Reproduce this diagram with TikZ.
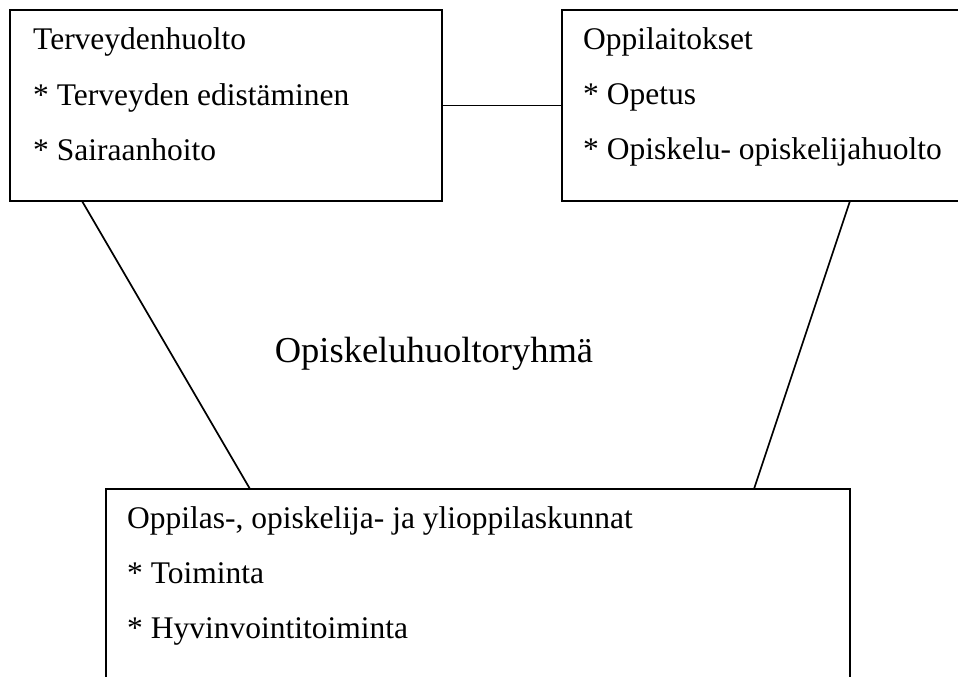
\documentclass[tikz,border=0pt]{standalone}
\usepackage{fontspec}
\setmainfont{Liberation Serif}
\begin{document}
\begin{tikzpicture}[x=1bp,y=-1bp,
  boxstyle/.style={draw=black,line width=1.9bp,rectangle,inner sep=0pt},
  txt/.style={anchor=base west,inner sep=0pt,font=\fontsize{31.5bp}{37bp}\selectfont},
  bigtxt/.style={anchor=base,inner sep=0pt,font=\fontsize{36.5bp}{42bp}\selectfont},
  conn/.style={draw=black,line width=1.7bp}]
\useasboundingbox (0,0) rectangle (958,677);
\fill[white] (0,0) rectangle (958,677);
% boxes
\node[boxstyle,minimum width=432bp,minimum height=191bp] (b1) at (226,105.5) {};
\node[boxstyle,minimum width=406bp,minimum height=191bp] (b2) at (765,105.5) {};
\node[boxstyle,minimum width=744bp,minimum height=201bp] (b3) at (478,589.5) {};
% texts
\node[txt] (t11) at (33,50) {Terveydenhuolto};
\node[txt] (t12) at (33,105.5) {* Terveyden edistäminen};
\node[txt] (t13) at (33,161) {* Sairaanhoito};
\node[txt] (t21) at (583,50) {Oppilaitokset};
\node[txt] (t22) at (583,105) {* Opetus};
\node[txt] (t23) at (583,160) {* Opiskelu- opiskelijahuolto};
\node[txt] (t31) at (127,528) {Oppilas-, opiskelija- ja ylioppilaskunnat};
\node[txt] (t32) at (127,583) {* Toiminta};
\node[txt] (t33) at (127,638) {* Hyvinvointitoiminta};
\node[bigtxt] (c) at (434,362) {Opiskeluhuoltoryhmä};
% connector anchor points
\coordinate (p1) at (82,201);
\coordinate (p2) at (250,489);
\coordinate (p3) at (850,201);
\coordinate (p4) at (754,489);
\draw[conn] (b1.east) -- (b2.west);
\draw[conn] (p1) -- (p2);
\draw[conn] (p3) -- (p4);
\end{tikzpicture}
\end{document}
